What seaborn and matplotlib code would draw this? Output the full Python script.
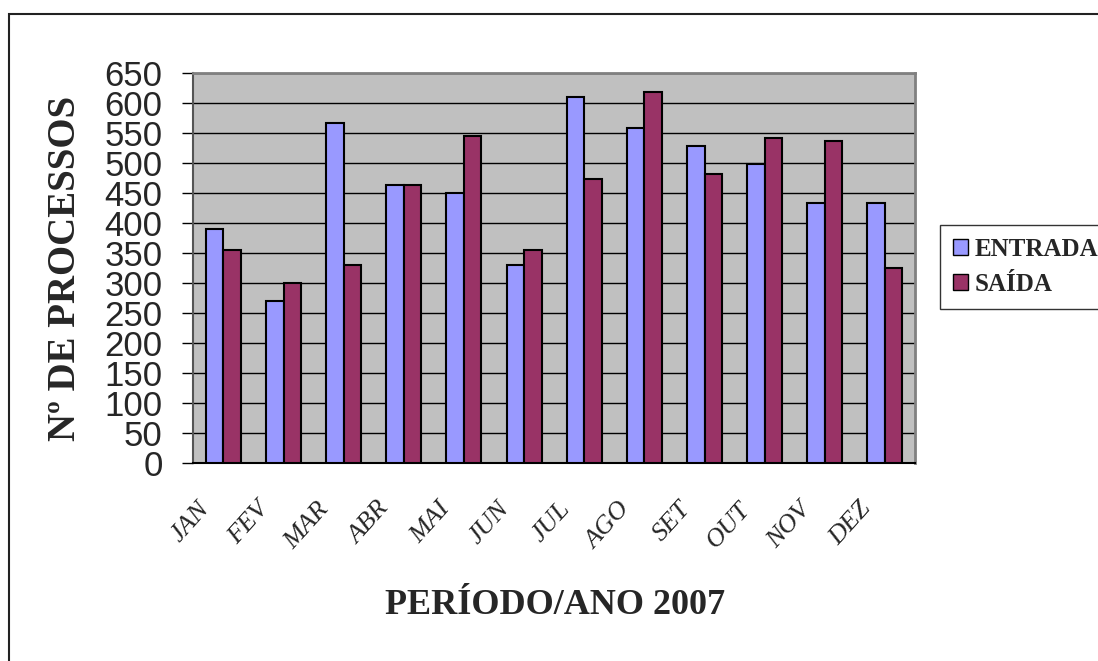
import matplotlib
matplotlib.use('Agg')
import matplotlib.pyplot as plt
import matplotlib.transforms as mtransforms
from matplotlib.patches import Rectangle, Patch
import seaborn as sns
import pandas as pd

# ---- data ----
months = ['JAN', 'FEV', 'MAR', 'ABR', 'MAI', 'JUN', 'JUL', 'AGO', 'SET', 'OUT', 'NOV', 'DEZ']
entrada = [390, 270, 567, 464, 451, 330, 610, 559, 528, 498, 434, 434]
saida = [356, 301, 331, 464, 546, 356, 473, 619, 482, 542, 537, 326]
series = ['ENTRADA', 'SAÍDA']
colors = ['#9999FF', '#993366']
yticks = list(range(0, 651, 50))

df = pd.DataFrame({
    'Mês': months * 2,
    'Processos': entrada + saida,
    'Série': [series[0]] * len(months) + [series[1]] * len(months),
})

sns.set_style('white')
W, H = 1098, 661
fig = plt.figure(figsize=(W / 100, H / 100), dpi=100)
ax = fig.add_axes([193.3 / W, 1 - 463.3 / H, (915 - 193.3) / W, (463.3 - 73.3) / H])

sns.barplot(data=df, x='Mês', y='Processos', hue='Série', palette=colors,
            width=0.58, edgecolor='black', linewidth=1.5, saturation=1,
            errorbar=None, legend=False, ax=ax, zorder=3)

ax.set_facecolor('#C0C0C0')
ax.set_ylim(0, 650)
ax.set_xlim(-0.5, len(months) - 0.5)
ax.yaxis.grid(True, color='black', linewidth=1)
ax.xaxis.grid(False)
ax.set_axisbelow(True)
ax.set_xlabel('')
ax.set_ylabel('')

# x ticks
ax.set_xticks(range(len(months)))
ax.set_xticklabels(months, rotation=48, ha='right', va='top', fontsize=19,
                   fontstyle='italic', family='Liberation Serif')
ax.tick_params(axis='x', which='major', length=0, pad=25)
ax.set_xticks([i - 0.5 for i in range(len(months) + 1)], minor=True)
ax.tick_params(axis='x', which='minor', length=5, width=1, color='black', direction='out')
off = mtransforms.ScaledTranslation(-10 / 100, 0, fig.dpi_scale_trans)
for lbl in ax.get_xticklabels():
    lbl.set_transform(lbl.get_transform() + off)

# y ticks
ax.set_yticks(yticks)
ax.set_yticklabels([str(v) for v in yticks], fontsize=25, family='Liberation Sans')
ax.tick_params(axis='y', length=8, width=1, direction='out', pad=14, color='black', left=True)

for s in ['top', 'right']:
    ax.spines[s].set_color('#808080')
    ax.spines[s].set_linewidth(2)
ax.spines['left'].set_color('#555555')
ax.spines['left'].set_linewidth(1.5)
ax.spines['bottom'].set_color('black')
ax.spines['bottom'].set_linewidth(1.5)

# legend
handles = [Patch(facecolor=c, edgecolor='black', linewidth=1) for c in colors]
leg = fig.legend(handles, series, loc='upper left', bbox_to_anchor=(940 / W, 1 - 225 / H),
                 frameon=True, fancybox=False, edgecolor='black',
                 prop={'family': 'Liberation Serif', 'weight': 'bold', 'size': 18},
                 handlelength=0.6, handleheight=0.6, handletextpad=0.3,
                 borderaxespad=0, borderpad=0.5, labelspacing=0.5)
leg.get_frame().set_linewidth(1)

# titles
fig.text(66 / W, 1 - 268 / H, 'Nº DE PROCESSOS', rotation=90, ha='center', va='center',
         family='Liberation Serif', weight='bold', size=28)
fig.text(555 / W, 1 - 606 / H, 'PERÍODO/ANO 2007', ha='center', va='center',
         family='Liberation Serif', weight='bold', size=26)

# outer chart border (cut off at right and bottom)
fig.add_artist(Rectangle((9 / W, -0.05), 1.2, (1 - 14 / H) + 0.05, transform=fig.transFigure,
                         fill=False, edgecolor='#222222', linewidth=1.5))

fig.savefig('out.png', dpi=100)
